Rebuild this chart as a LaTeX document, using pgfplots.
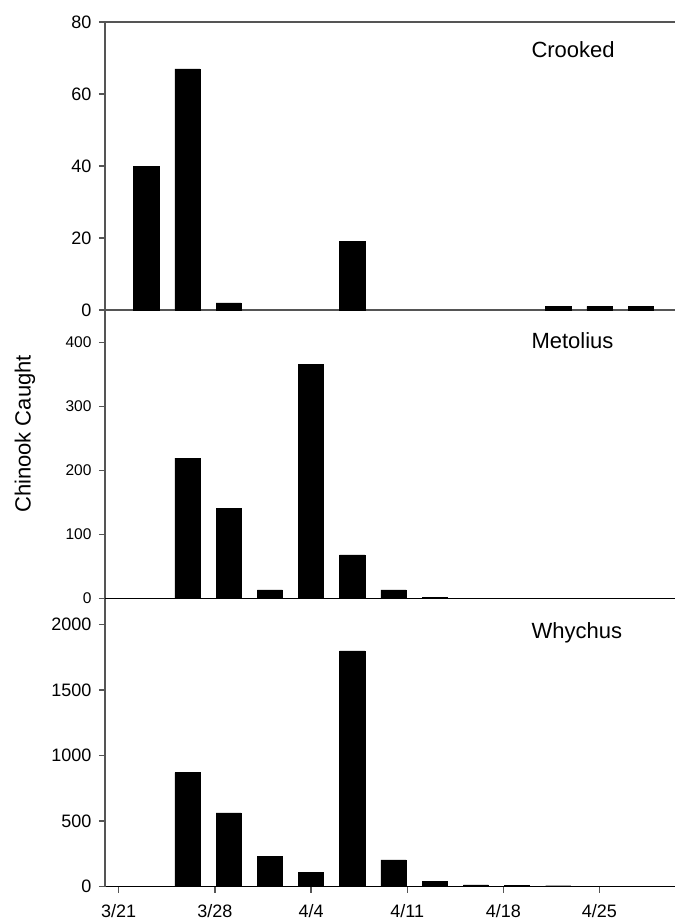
\documentclass[border=0pt]{standalone}
\usepackage{fontspec}
\setmainfont{Liberation Sans}
\usepackage{pgfplots}
\pgfplotsset{compat=1.18}
\definecolor{axgray}{RGB}{85,85,85}
\pgfplotsset{
 panel/.style={
  scale only axis, width=570pt, height=288pt,
  xmin=-1, xmax=40.5, ymin=0,
  axis x line*=bottom, axis y line*=left,
  axis line style={axgray, line width=1.3pt},
  tick style={axgray, line width=1.3pt},
  tick align=outside, major tick length=6pt,
  ybar, bar width=1.83,
  scaled y ticks=false,
  /pgf/number format/assume math mode=true,
  /pgf/number format/1000 sep={},
  tick label style={font=\fontsize{18}{20}\selectfont},
  yticklabel style={xshift=-4pt},
  clip=false,
 },
}
\begin{document}
\begin{tikzpicture}
\useasboundingbox (0,0) rectangle (675pt,922pt);
% Crooked
\begin{axis}[panel, at={(105pt,612pt)}, anchor=south west,
  ymax=80, ytick={0,20,40,60,80}, xtick=\empty]
\addplot[fill=black, draw=black] coordinates {(2,40) (5,67) (8,2) (17,19) (32,1) (35,1) (38,1)};
\draw[axgray, line width=1.3pt] (rel axis cs:0,1) -- (rel axis cs:1,1);
\end{axis}
% Metolius
\begin{axis}[panel, at={(105pt,323.7pt)}, anchor=south west,
  ymax=450, ytick={0,100,200,300,400}, xtick=\empty,
  x axis line style={black},
  yticklabel style={font=\fontsize{15.5}{17}\selectfont}]
\addplot[fill=black, draw=black] coordinates {(5,219) (8,140) (11,13) (14,366) (17,68) (20,13) (23,2)};
\end{axis}
% Whychus
\begin{axis}[panel, at={(105pt,35.5pt)}, anchor=south west,
  ymax=2200, ytick={0,500,1000,1500,2000},
  x axis line style={black},
  xtick={0,7,14,21,28,35}, xticklabels={3/21,3/28,4/4,4/11,4/18,4/25},
  xticklabel style={yshift=-8pt}]
\addplot[fill=black, draw=black] coordinates {(5,870) (8,563) (11,232) (14,110) (17,1800) (20,204) (23,38) (26,12) (29,7) (32,6)};
\end{axis}
\node[anchor=base west, font=\fontsize{22}{24}\selectfont] at (528pt,864pt) {Crooked};
\node[anchor=base west, font=\fontsize{22}{24}\selectfont] at (528pt,573pt) {Metolius};
\node[anchor=base west, font=\fontsize{22}{24}\selectfont] at (528pt,283pt) {Whychus};
\node[rotate=90, font=\fontsize{22}{24}\selectfont] at (25pt,488pt) {Chinook Caught};
\end{tikzpicture}
\end{document}
